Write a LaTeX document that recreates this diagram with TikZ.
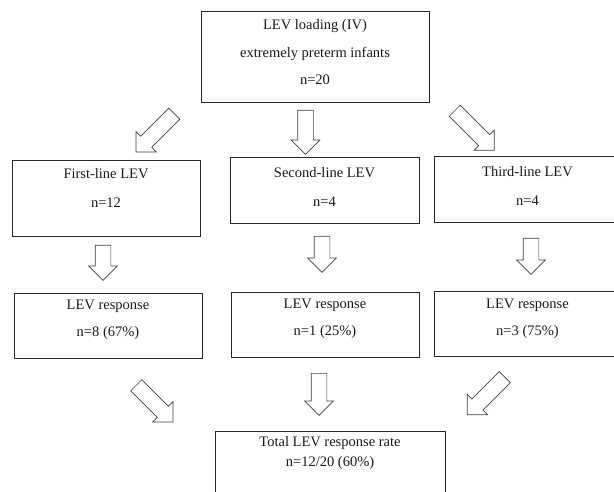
\documentclass[tikz,border=0pt]{standalone}
\usepackage{fontspec}
\setmainfont{Liberation Serif}
\usepackage{tikz}
\usetikzlibrary{shapes.arrows}
\tikzset{
    box/.style={draw=black!85, line width=0.8pt, rectangle, inner sep=0pt},
    txt/.style={align=center, inner sep=0pt, text=black!90, font=\fontsize{14.5}{28}\selectfont},
    blockarrow/.style={single arrow, draw=black!75, line width=0.7pt, fill=white,
        inner xsep=0pt, inner ysep=7.5pt, minimum width=0pt, single arrow head extend=6.5pt,
        single arrow head indent=0pt, single arrow tip angle=90, anchor=tail}
}
\begin{document}
\begin{tikzpicture}[x=1pt,y=-1pt]
        \clip (0,0) rectangle (614,492);
        \node[box, minimum width=228pt, minimum height=91pt] (load) at (315,56.5) {};
        \node[txt] (loadText) at (315,52.5) {LEV loading (IV)\\[-0.5pt]extremely preterm infants\\[-0.5pt]n=20};
        \node[box, minimum width=188pt, minimum height=76pt] (first) at (106,198) {};
        \node[txt] (firstText) at (106,187.5) {First-line LEV\\[1pt]n=12};
        \node[box, minimum width=189pt, minimum height=66pt] (second) at (324.5,190) {};
        \node[txt] (secondText) at (324.5,186.5) {Second-line LEV\\[1pt]n=4};
        \node[box, minimum width=187pt, minimum height=66pt] (third) at (527.5,189) {};
        \node[txt] (thirdText) at (527.5,185.5) {Third-line LEV\\[1pt]n=4};
        \node[box, minimum width=188pt, minimum height=65pt] (respA) at (108,325.5) {};
        \node[txt] (respAText) at (108,319.5) {LEV response\\[-1pt]n=8 (67\%)};
        \node[box, minimum width=188pt, minimum height=65pt] (respB) at (325,324.5) {};
        \node[txt] (respBText) at (325,319) {LEV response\\[-1pt]n=1 (25\%)};
        \node[box, minimum width=187pt, minimum height=65pt] (respC) at (527.5,323.5) {};
        \node[txt] (respCText) at (527.5,319) {LEV response\\[-1pt]n=3 (75\%)};
        \node[box, minimum width=230pt, minimum height=78pt] (total) at (330,470) {};
        \node[txt] (totalText) at (330,453) {Total LEV response rate\\[-7.5pt]n=12/20 (60\%)};
        \node[blockarrow, rotate=225, minimum height=54pt] (toFirst) at (174.5,113.5) {};
        \node[blockarrow, rotate=-90, minimum height=44pt] (toSecond) at (305.5,110) {};
        \node[blockarrow, rotate=-45, minimum height=56pt] (toThird) at (454.5,110.5) {};
        \node[blockarrow, rotate=-90, minimum height=35pt] (toRespA) at (103,245) {};
        \node[blockarrow, rotate=-90, minimum height=36pt] (toRespB) at (322,236) {};
        \node[blockarrow, rotate=-90, minimum height=36pt] (toRespC) at (531,238) {};
        \node[blockarrow, rotate=-45, minimum height=52pt] (fromRespA) at (136,385) {};
        \node[blockarrow, rotate=-90, minimum height=42pt] (fromRespB) at (319,373) {};
        \node[blockarrow, rotate=225, minimum height=53pt] (fromRespC) at (505,377) {};
\end{tikzpicture}
\end{document}
